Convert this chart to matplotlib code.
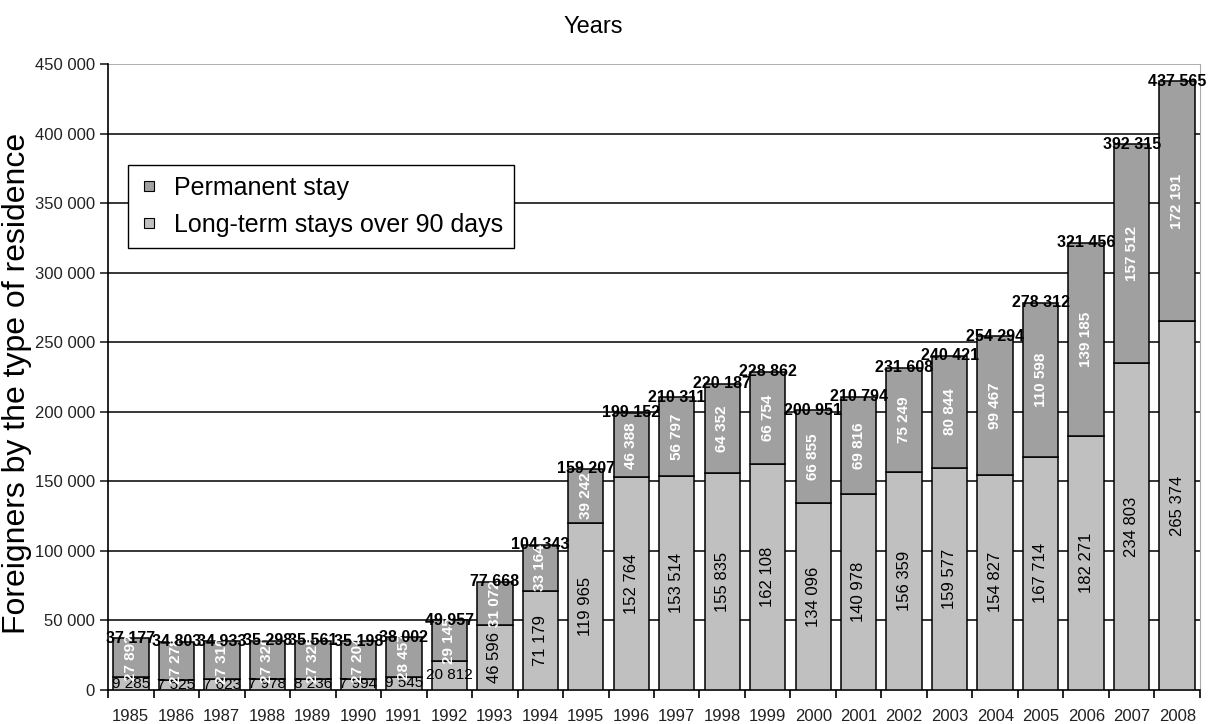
import matplotlib.pyplot as plt
from matplotlib.lines import Line2D
from matplotlib.ticker import FuncFormatter
import numpy as np

plt.rcParams["font.family"] = ["Liberation Sans", "DejaVu Sans"]

years = list(range(1985, 2009))
long_term = [9285, 7525, 7623, 7978, 8236, 7994, 9545, 20812, 46596, 71179,
             119965, 152764, 153514, 155835, 162108, 134096, 140978, 156359,
             159577, 154827, 167714, 182271, 234803, 265374]
permanent = [27892, 27278, 27310, 27320, 27325, 27204, 28457, 29145, 31072, 33164,
             39242, 46388, 56797, 64352, 66754, 66855, 69816, 75249, 80844, 99467,
             110598, 139185, 157512, 172191]
totals = [37177, 34803, 34933, 35298, 35561, 35198, 38002, 49957, 77668, 104343,
          159207, 199152, 210311, 220187, 228862, 200951, 210794, 231608, 240421,
          254294, 278312, 321456, 392315, 437565]
y_ticks = list(range(0, 450001, 50000))

c_perm = "#a0a0a0"
c_long = "#c0c0c0"


def fmt(v):
    return f"{int(v):,}".replace(",", " ")


fig = plt.figure(figsize=(12.11, 7.24), dpi=100)
ax = fig.add_axes([0.0892, 0.047, 0.9017, 0.8646])

x = np.arange(len(years))
ax.bar(x, long_term, width=0.78, color=c_long, edgecolor="black", linewidth=1.1, zorder=3)
ax.bar(x, permanent, width=0.78, bottom=long_term, color=c_perm, edgecolor="black",
       linewidth=1.1, zorder=3)

ax.set_xlim(-0.5, len(years) - 0.5)
ax.set_ylim(0, y_ticks[-1])
ax.set_yticks(y_ticks)
ax.yaxis.set_major_formatter(FuncFormatter(lambda v, p: fmt(v)))

# horizontal gridlines, the top one lighter
for t in y_ticks[1:]:
    col = "#999999" if t == y_ticks[-1] else "black"
    ax.axhline(t, color=col, linewidth=1.1, zorder=1)

ax.set_xticks(x)
ax.set_xticklabels([str(y) for y in years])
ax.set_xticks(np.arange(-0.5, len(years), 1.0), minor=True)
ax.tick_params(axis="x", which="major", length=0, labelsize=12, pad=14, colors="#222222")
ax.tick_params(axis="x", which="minor", length=6, width=1.2, direction="out")
ax.tick_params(axis="y", length=6, width=1.2, labelsize=12, colors="#222222")

ax.spines["top"].set_visible(False)
ax.spines["right"].set_color("#aaaaaa")
ax.spines["left"].set_linewidth(1.2)
ax.spines["bottom"].set_linewidth(1.2)

# value labels
for i in x:
    lt, pm, tot = long_term[i], permanent[i], totals[i]
    if years[i] <= 1992:
        ax.text(i, lt / 2, fmt(lt), ha="center", va="center", fontsize=11,
                color="black", zorder=5)
    else:
        ax.text(i, lt / 2, fmt(lt), ha="center", va="center", fontsize=12,
                color="black", rotation=90, zorder=5)
    ax.text(i, lt + pm / 2, fmt(pm), ha="center", va="center", fontsize=11,
            color="white", fontweight="bold", rotation=90, zorder=5,
            family=["Liberation Sans Narrow", "Liberation Sans"])
    ax.text(i, tot, fmt(tot), ha="center", va="center", fontsize=11.5,
            color="black", fontweight="bold", zorder=6)

fig.text(17 / 1211, 0.471, "Foreigners by the type of residence", rotation=90,
         ha="center", va="center", fontsize=23)
fig.text(0.49, 0.963, "Years", ha="center", va="center", fontsize=17)

handles = [
    Line2D([], [], linestyle="none", marker="s", markersize=7,
           markerfacecolor=c_perm, markeredgecolor="black", markeredgewidth=0.8),
    Line2D([], [], linestyle="none", marker="s", markersize=7,
           markerfacecolor=c_long, markeredgecolor="black", markeredgewidth=0.8),
]
leg = ax.legend(handles, ["Permanent stay", "Long-term stays over 90 days"],
                loc="upper left", bbox_to_anchor=(0.018, 0.839), borderaxespad=0,
                fontsize=18, frameon=True, fancybox=False, edgecolor="black",
                framealpha=1, handlelength=0.8, handletextpad=0.6, borderpad=0.45,
                labelspacing=0.5)
leg.get_frame().set_linewidth(1.0)
leg.set_zorder(10)

fig.savefig("out.png", dpi=100)
